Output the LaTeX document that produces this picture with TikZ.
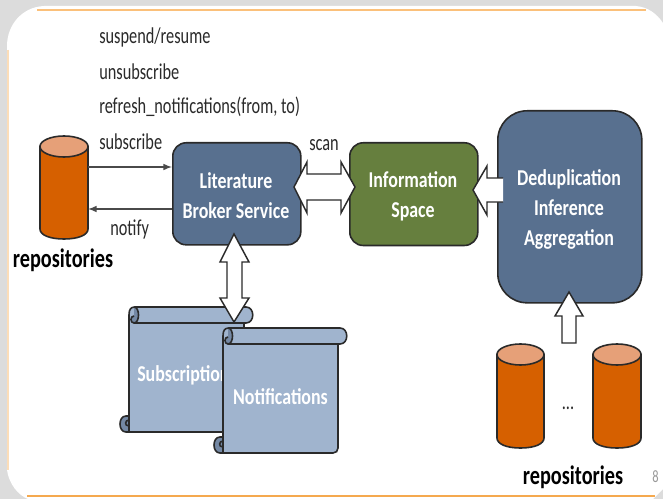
\documentclass[tikz,border=0pt]{standalone}
\usepackage{fontspec}
\setmainfont{Carlito}
\newfontfamily\plainfam{Carlito}[FakeStretch=0.72]
\newfontfamily\boldfam{Carlito}[FakeStretch=0.79]
\newfontfamily\repofam{Carlito}[FakeStretch=0.76]
\definecolor{bggray}{HTML}{DCDCDC}
\definecolor{frametop}{HTML}{FBC07A}
\definecolor{frameleft}{HTML}{FCDDB8}
\definecolor{framebot}{HTML}{F5A94F}
\definecolor{boxblue}{HTML}{58708F}
\definecolor{boxgreen}{HTML}{667F3E}
\definecolor{scrollblue}{HTML}{A0B4CE}
\definecolor{curlblue}{HTML}{7488A4}
\definecolor{cylor}{HTML}{D66000}
\definecolor{cyltop}{HTML}{E6A078}
\definecolor{inkdark}{HTML}{2A2A2A}
\tikzset{
  x=0.75pt,y=-0.75pt,
  plain/.style={font=\plainfam\fontsize{17}{20}\selectfont,text=inkdark,anchor=west,inner sep=0pt},
  boxlabel/.style={font=\boldfam\fontsize{17}{22.5}\selectfont\bfseries,text=white,align=center,inner sep=0pt},
  repolabel/.style={font=\repofam\fontsize{20}{22}\selectfont\bfseries,text=black,inner sep=0pt},
  serverbox/.style={draw=inkdark,line width=1.2pt,fill=boxblue,anchor=north west,inner sep=0pt},
  hollow/.style={draw=inkdark,line width=1.1pt,fill=white,line join=miter},
  thinarrow/.style={draw=inkdark!85,line width=1.2pt,-latex},
  scrollshape/.style={draw=inkdark,line width=1.2pt,fill=scrollblue},
  curlshape/.style={draw=inkdark,line width=1.2pt,fill=curlblue},
  cylbody/.style={draw=inkdark,line width=1.2pt,fill=cylor},
  cylcap/.style={draw=inkdark,line width=1.2pt,fill=cyltop},
}
\newcommand{\cylshape}[4]{% left, right, cap centre y, bottom y
  \path[cylbody] (#1,#3) -- (#1,#4-10) .. controls (#1,#4-4) and ({#1+(#2-#1)*0.2},#4) .. ({(#1+#2)/2},#4) .. controls ({#2-(#2-#1)*0.2},#4) and (#2,#4-4) .. (#2,#4-10) -- (#2,#3) -- cycle;
  \path[cylcap] ({(#1+#2)/2},#3) ellipse[x radius={(#2-#1)/2},y radius=10.5];
}
\newcommand{\scrollsheet}[5]{% left, sheet right, roll right, top, bottom
  \path[scrollshape] (#1,#4+8) .. controls (#1,#4+2) and (#1+2,#4) .. (#1+6,#4) -- (#3-7,#4) .. controls (#3+2,#4) and (#3+2,#4+16) .. (#3-7,#4+16) -- (#2,#4+16) -- (#2,#5-5) .. controls (#2,#5-2) and (#2-2,#5) .. (#2-5,#5) -- (#1,#5) -- cycle;
  \path[curlshape] (#1,#5-16) -- (#1-3,#5-16) .. controls (#1-11,#5-16) and (#1-11,#5) .. (#1-3,#5) -- (#1,#5) -- cycle;
  \draw[line width=1.2pt,draw=inkdark] (#1,#5-6) .. controls (#1-5,#5-6) and (#1-4,#5-12) .. (#1,#5-12);
  \path[curlshape] (#1+5,#4) .. controls (#1+11,#4) and (#1+11,#4+16) .. (#1+5,#4+16) .. controls (#1+1,#4+16) and (#1+1,#4+9) .. (#1+5,#4+9);
  \draw[line width=1.2pt,draw=inkdark] (#1+5,#4+16) -- (#2,#4+16);
}
\begin{document}
\begin{tikzpicture}
\useasboundingbox (0,0) rectangle (663,499);
\fill[bggray] (0,0) rectangle (663,499);
\fill[white] (7,46) .. controls (7,25) and (22,7) .. (44,6) -- (636,6) .. controls (648,7) and (657,14) .. (663,23) -- (663,489) -- (653,499) -- (28,499) .. controls (18,495) and (9,484) .. (7,470) -- cycle;
\coordinate (ftl) at (37,10); \coordinate (ftr) at (646,10);
\coordinate (fll) at (8,50); \coordinate (flb) at (8,470);
\coordinate (fbl) at (27,496); \coordinate (fbr) at (655,496);
\draw[frametop,line width=1.4pt] (ftl) -- (ftr);
\draw[frameleft,line width=1.4pt] (fll) -- (flb);
\draw[framebot,line width=1.4pt] (fbl) -- (fbr);
\node[plain] (t1) at (99,37) {suspend/resume};
\node[plain] (t2) at (99,72) {unsubscribe};
\node[plain] (t3) at (99,107) {refresh\_notifications(from, to)};
\node[plain] (t4) at (99,142) {subscribe};
\node[plain] (t5) at (110,229) {notify};
\node[plain] (t6) at (309,145) {scan};
\node[repolabel] (r1) at (63,260) {repositories};
\node[repolabel] (r2) at (573,477) {repositories};
\node[plain,font=\plainfam\fontsize{13}{15}\selectfont,text=black!40] (p8) at (652,477) {8};
\node[plain,anchor=center] (dots) at (568,408) {...};
\cylshape{40}{88}{146.5}{239}
\cylshape{497}{544}{354.5}{448}
\cylshape{593}{641}{354.5}{448}
\node[serverbox,rounded corners=10pt,minimum width=96pt,minimum height=76.5pt] (lit) at (172,142) {};
\node[boxlabel] at (236,196) {Literature\\Broker Service};
\node[serverbox,fill=boxgreen,rounded corners=10pt,minimum width=96pt,minimum height=77pt] (info) at (349,142) {};
\node[boxlabel] at (413,196) {Information\\Space};
\node[serverbox,rounded corners=22pt,minimum width=108pt,minimum height=144pt] (ded) at (497,110) {};
\node[boxlabel] at (569,209) {Deduplication\\Inference\\Aggregation};
\coordinate (s1) at (88,167); \coordinate (s2) at (172,167);
\coordinate (n1) at (172,209); \coordinate (n2) at (88,209);
\draw[thinarrow] (s1) -- (s2);
\draw[thinarrow] (n1) -- (n2);
\scrollsheet{129}{244}{253}{307}{432}
\node[boxlabel,anchor=west] (sub) at (137,375) {Subscription};
\scrollsheet{223}{338}{347}{328}{453}
\node[boxlabel,anchor=center] (not) at (280.5,397) {Notifications};
\path[hollow] (234,234) -- (249,262) -- (242,262) -- (242,298) -- (249,298) -- (234,322) -- (220,298) -- (227,298) -- (227,262) -- (220,262) -- cycle;
\path[hollow] (294,187) -- (307,162) -- (307,174) -- (341,174) -- (341,162) -- (355,187) -- (341,213) -- (341,200) -- (307,200) -- (307,213) -- cycle;
\fill[white] (473,190) -- (487,166) -- (487,178) -- (503,178) -- (503,202) -- (487,202) -- (487,215) -- cycle;
\draw[hollow,fill=none] (503,178) -- (487,178) -- (487,166) -- (473,190) -- (487,215) -- (487,202) -- (503,202);
\path[hollow] (569,292) -- (583,316) -- (576,316) -- (576,343) -- (562,343) -- (562,316) -- (555,316) -- cycle;
\end{tikzpicture}
\end{document}
